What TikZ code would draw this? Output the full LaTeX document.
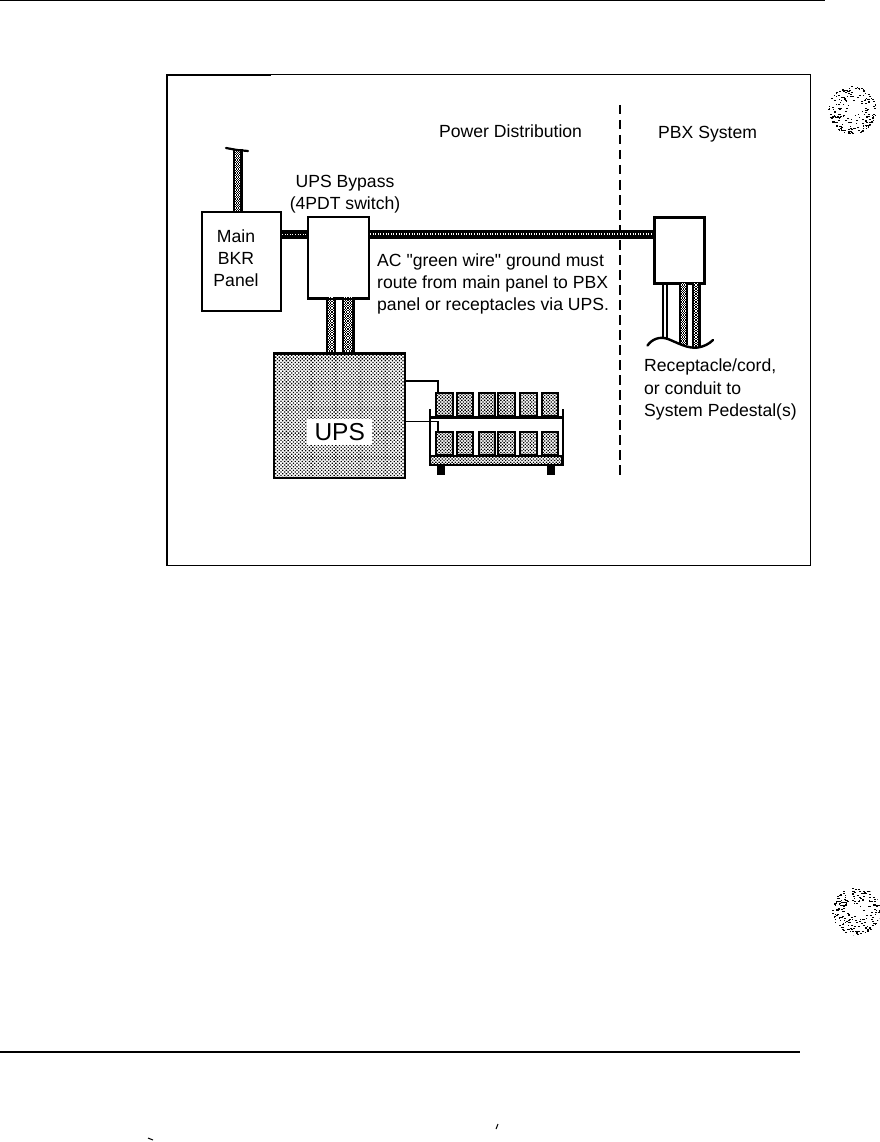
\documentclass[tikz,border=0pt]{standalone}
\usepackage{fontspec}
\newfontfamily\plainf{Liberation Sans}
\setmainfont{Liberation Sans}
\usetikzlibrary{patterns.meta,calc}
\tikzset{
  x=1pt,y=-1pt,
  ht/.style={pattern={Dots[distance=2.5pt,radius=0.92pt,angle=45]},pattern color=black},
  htcell/.style={pattern={Dots[distance=2.3pt,radius=0.95pt,angle=45]},pattern color=black},
  boxn/.style={draw=black,line width=2pt,fill=white,anchor=north west,inner sep=0pt,align=center},
  dotrow/.style n args={2}{postaction={draw=black,line width=1.3pt,dash pattern=on 1.3pt off 1.3pt,dash phase=#2,transform canvas={xshift=#1}}},
  vwire/.style={line width=#1,black,postaction={draw=white,line width=#1-4.4pt},
     dotrow={-2.6pt}{0pt},dotrow={-1.3pt}{1.3pt},dotrow={0pt}{0pt},dotrow={1.3pt}{1.3pt},dotrow={2.6pt}{0pt}},
  vwirebig/.style={vwire=13pt,dotrow={-3.9pt}{1.3pt},dotrow={3.9pt}{1.3pt}},
  wirethin/.style={line width=9pt,black,postaction={draw=white,line width=1.5pt,dash pattern=on 1pt off 1.6pt}},
  cell/.style={draw=black,line width=2pt,htcell},
  thinw/.style={draw=black,line width=1.9pt},
  lbl/.style={font=\plainf\fontsize{17.6}{22}\selectfont,inner sep=0pt,text=black},
}
\begin{document}
\begin{tikzpicture}
\useasboundingbox (0,0) rectangle (879,1142);
% page rules
\coordinate (rt1) at (0,0.6); \coordinate (rt2) at (825,0.6);
\coordinate (rb1) at (0,1052); \coordinate (rb2) at (800,1052);
\draw[line width=1.2pt] (rt1) -- (rt2);
\draw[line width=1.2pt] (rb1) -- (rb2);
% frame
\draw[line width=1pt] (166.5,565) -- (810,565) -- (810,74.7) -- (166.5,74.7) -- cycle;
\draw[line width=2pt] (166.5,565) -- (166.5,74.7) ;
\draw[line width=2.4pt] (166.5,75) -- (271,75);
% stippled specks
\pgfmathsetseed{7}
\begin{scope}
\clip (852,110) circle (24.5);
\foreach \i in {1,...,210}{
  \pgfmathsetmacro{\ang}{rnd*360}\pgfmathsetmacro{\rad}{24*rnd^0.3}
  \fill (852,110) ++(\ang:\rad) rectangle ++(1.7,0.7);
}
\end{scope}
\begin{scope}
\clip (856,911) circle (24.5);
\foreach \i in {1,...,210}{
  \pgfmathsetmacro{\ang}{rnd*360}\pgfmathsetmacro{\rad}{24*rnd^0.3}
  \fill (856,911) ++(\ang:\rad) rectangle ++(1.7,0.7);
}
\end{scope}
\draw[line width=1pt] (148,1138) -- (153,1140);
\draw[line width=1pt] (496,1129) -- (498,1124);
% headings
\node[lbl,anchor=base west] (pd) at (439,137.5) {Power Distribution};
\node[lbl,anchor=base west] (ps) at (658,139) {PBX System};
% divider
\coordinate (d1) at (620,105); \coordinate (d2) at (620,478);
\draw[line width=1.9pt,dash pattern=on 9.5pt off 5.5pt] (d1) -- (d2);
% boxes
\node[boxn,minimum width=79pt,minimum height=99pt] (main) at (201,211) {};
\node[lbl,align=center] (mainl) at (236,258) {Main\\BKR\\Panel};
\node[boxn,minimum width=61pt,minimum height=81pt] (bypass) at (307,216) {};
\node[boxn,line width=3.2pt,minimum width=50pt,minimum height=66pt] (pbx) at (652.5,216) {};
\node[draw=black,line width=2.4pt,ht,anchor=north west,inner sep=0pt,minimum width=131pt,minimum height=124pt] (ups) at (273,353) {};
\node[fill=white,inner sep=0pt,minimum width=65pt,minimum height=26pt,font=\plainf\fontsize{24.5}{26}\selectfont] (upsl) at (ups.center |- 0,432) {UPS};
% wires
\coordinate (cap) at (237.5,149);
\draw[vwire=10pt] (cap) -- (cap |- main.north);
\draw[line width=2.2pt,line cap=round] (226,148) -- (237,150) -- (248,151);
\draw[wirethin] (main.east |- 0,234.5) -- (bypass.west |- 0,234.5);
\draw[wirethin] (bypass.east |- 0,234) -- (pbx.west |- 0,234);
\coordinate (w1) at (330.7,297); \coordinate (w2) at (348,297);
\draw[vwire=10pt] (w1) -- (w1 |- ups.north);
\draw[vwirebig] (w2) -- (w2 |- ups.north);
% re-draw box edges over wires
\draw[line width=2pt] (bypass.south west) -- (bypass.south east);
\draw[line width=2.4pt] (ups.north west) -- (ups.north east);
% pbx down-leads
\coordinate (p2) at (683.5,283); \coordinate (p3) at (696,283);
\coordinate (wb) at (683.5,345); \coordinate (wc) at (696,347);
\draw[line width=2pt] (663,283) -- (663,337);
\draw[line width=2pt] (667,283) -- (667,338);
\draw[vwire=9.5pt] (p2) -- (wb);
\draw[vwire=9pt] (p3) -- (wc);
\draw[line width=2.4pt,line cap=round] (647.5,345.5) .. controls (652,339) and (660,336) .. (668,339) .. controls (678,343) and (688,349) .. (698,347.5) .. controls (704,346.5) and (709,344) .. (713,340);
% battery rack
\foreach \a/\b in {436/453,457/473,479/495,498/515,520/537,542/558}{
  \path[cell] (\a,392.5) rectangle (\b,416);
  \path[cell] (\a,432) rectangle (\b,455);
}
\draw[line width=2.6pt] (430,417.7) -- (562.5,417.7);
\draw[line width=2pt] (430,409) -- (430,465);
\draw[line width=2pt] (562.5,409) -- (562.5,465);
\path[draw=black,line width=2.4pt,htcell] (430,456) rectangle (562.5,465);
\fill (437,465) rectangle (445,475);
\fill (547,465) rectangle (555,475);
% ups to battery
\coordinate (b1) at (437.7,392.5); \coordinate (b2) at (437.7,432);
\draw[thinw] (ups.east |- 0,381) -| (b1);
\draw[thinw] (ups.east |- 0,421.5) -| (b2);
% labels
\node[lbl,align=center,anchor=south] (lb) at (345,213.5) {UPS Bypass\\(4PDT switch)};
\node[lbl,align=left,anchor=north west] (lg) at (377,254) {AC "green wire" ground must\\route from main panel to PBX\\panel or receptacles via UPS.};
\node[lbl,align=left,anchor=north west,font=\plainf\fontsize{17.6}{22.7}\selectfont] (lr) at (644,358.5) {Receptacle/cord,\\or conduit to\\System Pedestal(s)};
\end{tikzpicture}
\end{document}
